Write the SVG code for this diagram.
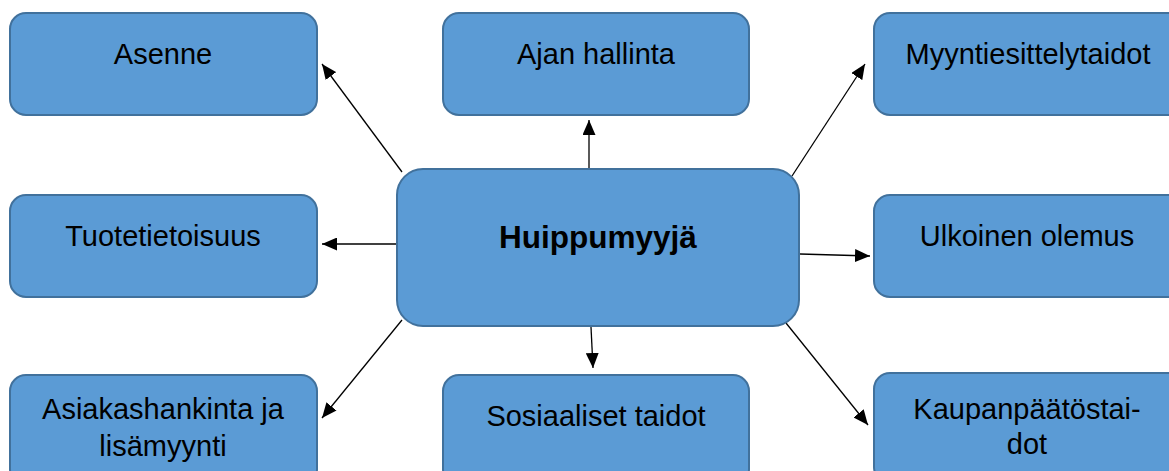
<svg xmlns="http://www.w3.org/2000/svg" width="1169" height="471" viewBox="0 0 1169 471">
<style>
.box{fill:#5B9BD5;stroke:#41719C;stroke-width:2}
.t{font-family:"Liberation Sans",Arial,sans-serif;font-size:29px;fill:#000;text-anchor:middle}
.b{font-weight:bold;font-size:31.5px}
.c{stroke:#000;stroke-width:1.3;fill:none;marker-end:url(#ah)}
</style>
<defs>
<marker id="ah" markerWidth="15" markerHeight="13" refX="15" refY="6.5" orient="auto" markerUnits="userSpaceOnUse">
<path d="M0,0 L15,6.5 L0,13 Z" fill="#000"/>
</marker>
</defs>
<rect width="1169" height="471" fill="#fff"/>
<g id="connectors">
<line class="c" x1="402" y1="172" x2="322" y2="64"/>
<line class="c" x1="589" y1="168" x2="589" y2="120"/>
<line class="c" x1="792" y1="176" x2="865" y2="64"/>
<line class="c" x1="396" y1="244" x2="322" y2="244"/>
<line class="c" x1="800" y1="254" x2="870" y2="256"/>
<line class="c" x1="402" y1="320" x2="322" y2="418"/>
<line class="c" x1="591" y1="327" x2="593" y2="368"/>
<line class="c" x1="786" y1="323" x2="868" y2="425"/>
</g>
<g id="asenne"><rect class="box" x="10" y="13" width="307" height="102" rx="16"/><text class="t" x="163" y="64">Asenne</text></g>
<g id="ajan"><rect class="box" x="443" y="13" width="306" height="102" rx="16"/><text class="t" x="596" y="64">Ajan hallinta</text></g>
<g id="myynti"><rect class="box" x="874" y="13" width="310" height="102" rx="16"/><text class="t" x="1028" y="64">Myyntiesittelytaidot</text></g>
<g id="tuote"><rect class="box" x="10" y="195" width="307" height="102" rx="16"/><text class="t" x="163" y="246">Tuotetietoisuus</text></g>
<g id="huippu"><rect class="box" x="397" y="169" width="402" height="157" rx="26"/><text class="t b" x="598" y="248">Huippumyyjä</text></g>
<g id="ulkoinen"><rect class="box" x="874" y="195" width="310" height="102" rx="16"/><text class="t" x="1027" y="246">Ulkoinen olemus</text></g>
<g id="asiakas"><rect class="box" x="10" y="375" width="307" height="110" rx="16"/><text class="t" x="163" y="419">Asiakashankinta ja</text><text class="t" x="163" y="456">lisämyynti</text></g>
<g id="sosiaaliset"><rect class="box" x="443" y="375" width="306" height="110" rx="16"/><text class="t" x="596" y="426">Sosiaaliset taidot</text></g>
<g id="kaupan"><rect class="box" x="874" y="373" width="310" height="110" rx="16"/><text class="t" x="1027" y="419">Kaupanpäätöstai-</text><text class="t" x="1027" y="454">dot</text></g>
</svg>
